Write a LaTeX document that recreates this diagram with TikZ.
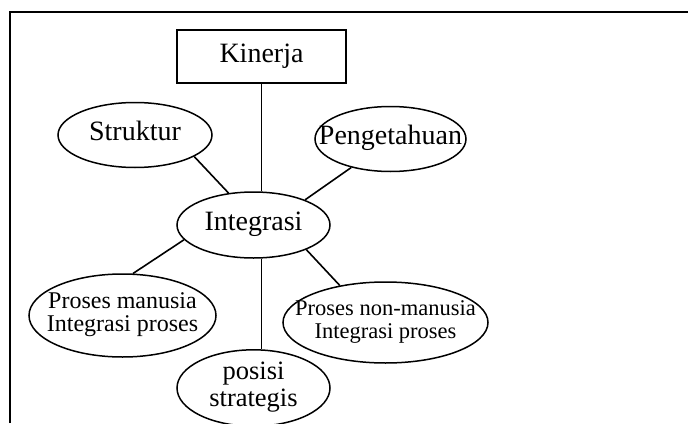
\documentclass[tikz,border=0pt]{standalone}
\usepackage{fontspec}
\setmainfont{Liberation Serif}
\usetikzlibrary{shapes.geometric}
\newcommand{\zwbox}[1]{\makebox[0pt]{\begin{tabular}{@{}c@{}}#1\end{tabular}}}
\begin{document}
\begin{tikzpicture}[x=1pt,y=-1pt,
  every node/.style={inner sep=0pt},
  oval/.style={ellipse,draw,line width=1.5pt},
  big/.style={font=\fontsize{28}{28}\selectfont},
  small/.style={font=\fontsize{22.5}{23}\selectfont},
  link/.style={line width=1.6pt}]
\useasboundingbox (0,0) rectangle (688,423);
\coordinate (fa) at (10,423);
\coordinate (fb) at (10,12);
\coordinate (fc) at (688,12);
\draw[line width=1.7pt] (fa) -- (fb) -- (fc);
\node[draw,line width=1.5pt,minimum width=169,minimum height=53,big] (kin) at (261.5,56.5) {Kinerja};
\node[oval,minimum width=154,minimum height=65,big] (struk) at (135,135) {\zwbox{Struktur}};
\node[oval,minimum width=151,minimum height=65,big] (peng) at (390.5,139) {\zwbox{Pengetahuan}};
\node[oval,minimum width=153,minimum height=66,big] (integ) at (253.5,225) {\zwbox{Integrasi}};
\node[oval,minimum width=187,minimum height=83,font=\fontsize{24}{23}\selectfont] (pm) at (122.5,315.5) {\zwbox{Proses manusia\\Integrasi proses}};
\node[oval,minimum width=205,minimum height=81,small] (pnm) at (385.5,322.5) {\zwbox{Proses non-manusia\\Integrasi proses}};
\node[oval,minimum width=153,minimum height=68,font=\fontsize{26.5}{27}\selectfont] (pos) at (253.5,388) {\zwbox{posisi\\strategis}};
\draw[link] (kin.south) -- (kin.south |- integ.north);
\draw[link] (struk.-20) -- (integ.128);
\draw[link] (peng.-144) -- (integ.26);
\draw[link] (integ.192) -- (pm.76);
\draw[link] (integ.-25) -- (pnm.141);
\draw[link] (kin.south |- integ.south) -- (kin.south |- pos.north);
\end{tikzpicture}
\end{document}
